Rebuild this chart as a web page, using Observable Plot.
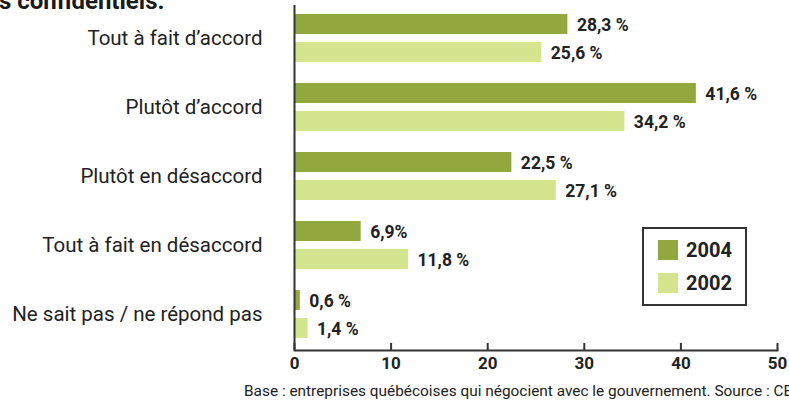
<!DOCTYPE html>
<html>
<head>
<meta charset="utf-8">
<script src="https://cdn.jsdelivr.net/npm/d3@7"></script>
<script src="https://cdn.jsdelivr.net/npm/@observablehq/plot@0.6"></script>
<style>
  html, body { margin: 0; padding: 0; background: #fff; overflow: hidden; }
  #wrap { position: relative; width: 789px; height: 400px; overflow: hidden; font-family: Roboto, sans-serif; color: #222; }
  #title { position: absolute; left: -1px; top: -11px; font: bold 24px/24px Roboto, sans-serif; color: #1a1a1a; white-space: nowrap; }
  #caption { position: absolute; left: 244px; top: 383px; font: 15.4px/17px Roboto, sans-serif; color: #222; white-space: nowrap; }
  #legend { position: absolute; left: 642px; top: 227px; width: 101px; height: 75px; border: 2px solid #333; background: #fff; }
  .item { position: absolute; left: 14px; display: flex; align-items: center; font: bold 20px/20px Roboto, sans-serif; color: #222; }
  .sw { width: 20px; height: 20px; margin-right: 8px; }
</style>
</head>
<body>
<div id="wrap">
  <div id="chart"></div>
  <div id="title">s confidentiels.</div>
  <div id="legend"></div>
  <div id="caption">Base : entreprises québécoises qui négocient avec le gouvernement. Source : CEFRIO</div>
</div>
<script>
const categories = ["Tout à fait d’accord", "Plutôt d’accord", "Plutôt en désaccord", "Tout à fait en désaccord", "Ne sait pas / ne répond pas"];
const years = ["2004", "2002"];
const values2004 = [28.3, 41.6, 22.5, 6.9, 0.6];
const values2002 = [25.6, 34.2, 27.1, 11.8, 1.4];
const labels2004 = ["28,3 %", "41,6 %", "22,5 %", "6,9%", "0,6 %"];
const labels2002 = ["25,6 %", "34,2 %", "27,1 %", "11,8 %", "1,4 %"];
const xTicks = [0, 10, 20, 30, 40, 50];
const colors = {"2004": "#92a83e", "2002": "#d5e48f"};

const data2004 = categories.map((c, i) => ({category: c, year: "2004", value: values2004[i], label: labels2004[i]}));
const data2002 = categories.map((c, i) => ({category: c, year: "2002", value: values2002[i], label: labels2002[i]}));

const chart = Plot.plot({
  width: 789,
  height: 400,
  marginLeft: 294,
  marginRight: 12,
  marginTop: 5,
  marginBottom: 50,
  style: {fontFamily: "Roboto, sans-serif", color: "#222", background: "transparent"},
  x: {domain: [0, 50], axis: null, label: null},
  y: {domain: categories, paddingInner: 0.3094, paddingOuter: 0.1367, align: 0.42, axis: null, label: null},
  marks: [
    Plot.barX(data2004, {x: "value", y: "category", fill: colors["2004"], insetBottom: 28}),
    Plot.barX(data2002, {x: "value", y: "category", fill: colors["2002"], insetTop: 28}),
    Plot.text(data2004, {x: "value", y: "category", text: "label", dy: -13, dx: 9, textAnchor: "start", fontWeight: "bold", fontSize: 17.5, fill: "#222"}),
    Plot.text(data2002, {x: "value", y: "category", text: "label", dy: 15, dx: 9, textAnchor: "start", fontWeight: "bold", fontSize: 17.5, fill: "#222"}),
    Plot.axisY({tickSize: 0, tickPadding: 32, fontSize: 20.5, fill: "#222", label: null}),
    Plot.axisX({ticks: xTicks, tickSize: -7, tickPadding: 13, fontSize: 17, fontWeight: "bold", stroke: "#333", strokeWidth: 2, fill: "#222", label: null}),
    Plot.frame({anchor: "bottom", stroke: "#333", strokeWidth: 2}),
    Plot.ruleX([0], {stroke: "#333", strokeWidth: 2})
  ]
});
document.getElementById("chart").appendChild(chart);

const legend = document.getElementById("legend");
years.forEach((y, i) => {
  const item = document.createElement("div");
  item.className = "item";
  item.style.top = (11 + i * 33) + "px";
  item.innerHTML = `<span class="sw" style="background:${colors[y]}"></span><span>${y}</span>`;
  legend.appendChild(item);
});
</script>
</body>
</html>
